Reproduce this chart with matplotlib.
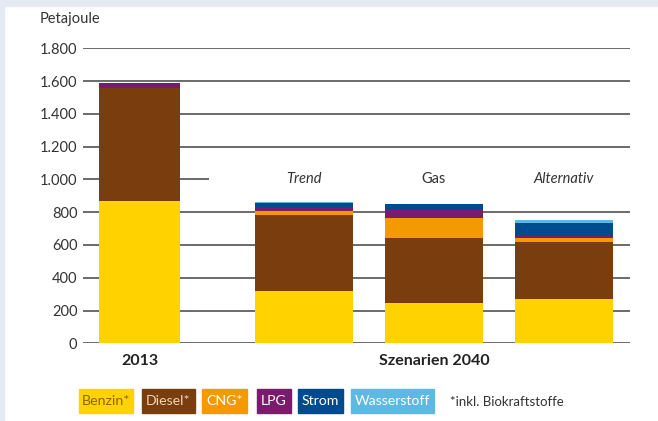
import matplotlib.pyplot as plt
from matplotlib.patches import Rectangle
import numpy as np

plt.rcParams['font.family'] = ['Lato', 'DejaVu Sans']

# data (Petajoule)
bars = ['2013', 'Trend', 'Gas', 'Alternativ']
fuels = ['Benzin*', 'Diesel*', 'CNG*', 'LPG', 'Strom', 'Wasserstoff']
benzin = [870, 320, 244, 268]
diesel = [686, 463, 400, 348]
cng = [0, 24, 122, 25]
lpg = [25, 25, 47, 12]
strom = [5, 26, 37, 79]
wasserstoff = [0, 4, 2, 20]
yticks = [0, 200, 400, 600, 800, 1000, 1200, 1400, 1600, 1800]
ytick_labels = ['0', '200', '400', '600', '800', '1.000', '1.200', '1.400', '1.600', '1.800']

colors = ['#FFD200', '#7A3E0E', '#F39A00', '#7B1B6E', '#004B8D', '#5DB9E2']
text_colors = ['#8A6400', '#F3D3B6', 'white', 'white', 'white', 'white']

fig = plt.figure(figsize=(6.58, 4.21), dpi=100)
fig.patch.set_facecolor('white')
# light frame at top and left
fig.patches.append(Rectangle((0, 1 - 6 / 421), 1, 6 / 421, transform=fig.transFigure,
                             color='#E3EAF1', zorder=0))
fig.patches.append(Rectangle((0, 0), 4 / 658, 1, transform=fig.transFigure,
                             color='#E3EAF1', zorder=0))

ax = fig.add_axes([83 / 658, (421 - 343.3) / 421, 547 / 658, 295 / 421])
pos = np.array([0, 1.265, 2.265, 3.265])
widths = [0.62, 0.75, 0.75, 0.75]
ax.set_xlim(-0.435, 3.773)
ax.set_ylim(0, 1800)

# gridlines
for t in yticks:
    if t == 1000:
        ax.hlines(t, -0.435, 0.535, color='#6A6A6A', lw=1.4, zorder=1)
    else:
        ax.axhline(t, color='#6A6A6A', lw=1.4, zorder=1)

series = [benzin, diesel, cng, lpg, strom, wasserstoff]
bottom = np.zeros(len(bars))
for vals, c in zip(series, colors):
    ax.bar(pos, vals, widths, bottom=bottom, color=c, zorder=2)
    bottom += np.array(vals)

for s in ax.spines.values():
    s.set_visible(False)
ax.set_xticks([])
ax.set_yticks(yticks)
ax.set_yticklabels(ytick_labels, fontsize=10.5, color='#333333')
ax.tick_params(axis='y', length=0, pad=4)

# scenario labels
ax.text(pos[1], 1000, bars[1], ha='center', va='center', fontsize=10.5,
        style='italic', color='#333333')
ax.text(pos[2], 1000, bars[2], ha='center', va='center', fontsize=10.5,
        color='#333333')
ax.text(pos[3], 1000, bars[3], ha='center', va='center', fontsize=10.5,
        style='italic', color='#333333')

fig.text(140 / 658, 1 - 361 / 421, bars[0], ha='center', va='center',
         fontsize=11.5, fontweight='bold', color='#222222')
fig.text(434 / 658, 1 - 361 / 421, 'Szenarien 2040', ha='center', va='center',
         fontsize=11.5, fontweight='bold', color='#222222')
fig.text(40 / 658, 1 - 19 / 421, 'Petajoule', ha='left', va='center',
         fontsize=10.5, color='#333333')

# legend boxes
box_x = [(79, 133), (142, 195), (202, 247), (257, 291), (298, 343), (351, 434)]
for (x0, x1), lab, c, tc in zip(box_x, fuels, colors, text_colors):
    fig.patches.append(Rectangle((x0 / 658, 1 - 413 / 421), (x1 - x0) / 658, 24 / 421,
                                 transform=fig.transFigure, color=c))
    fig.text((x0 + x1) / 2 / 658, 1 - 401 / 421, lab, ha='center', va='center',
             fontsize=10.2, color=tc)
fig.text(450 / 658, 1 - 402 / 421, '*inkl. Biokraftstoffe', ha='left', va='center',
         fontsize=9.5, color='#333333')

fig.savefig('out.png', dpi=100, facecolor='white')
